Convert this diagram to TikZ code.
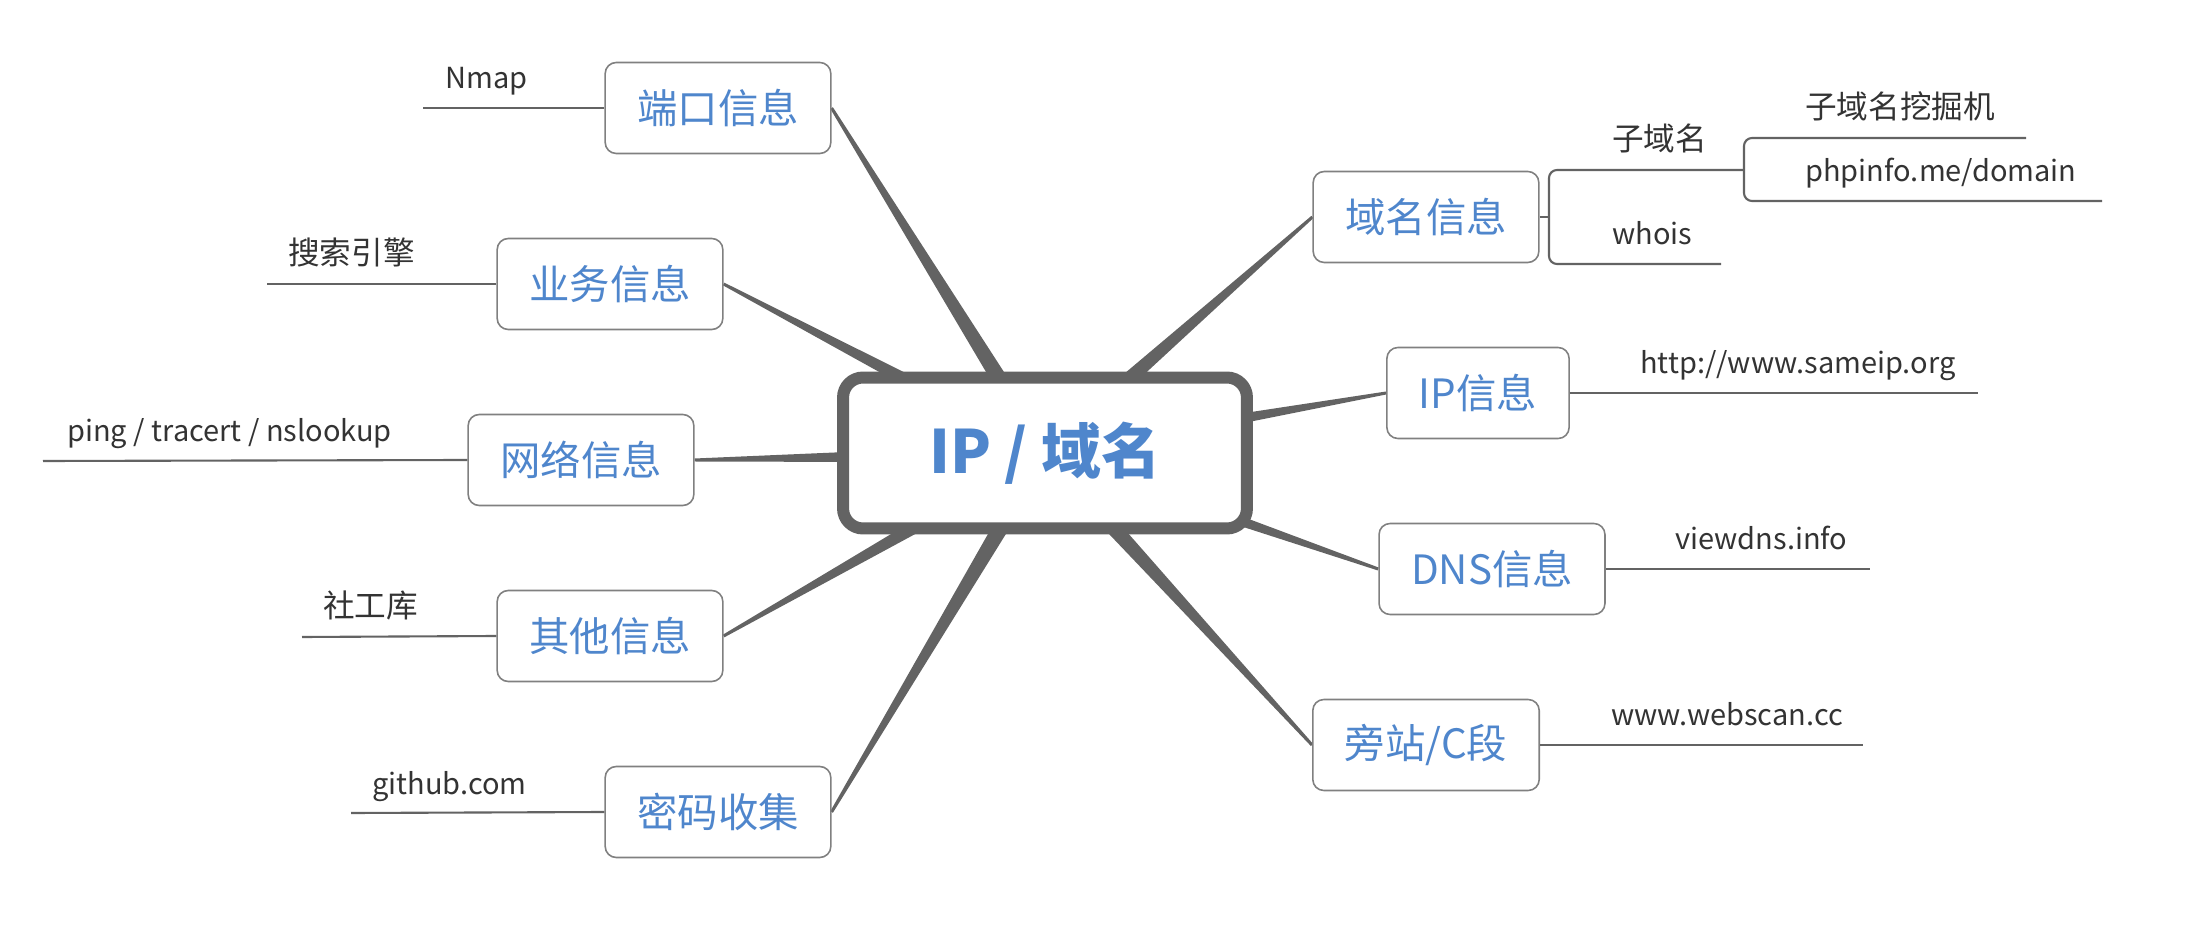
\documentclass[tikz,border=0pt]{standalone}
\usepackage{fontspec}
\setmainfont{Noto Sans CJK SC}
\usepackage{tikz}
\usetikzlibrary{calc,backgrounds}

\definecolor{topicblue}{HTML}{4F86CC}
\definecolor{linegray}{HTML}{636363}
\definecolor{leafgray}{HTML}{333333}

% tapered branch: thin at the topic, thick at the hub
\newcommand{\taper}[2]{%
\fill[linegray] ($(#1)!0.03cm!90:(#2)$) -- ($(#2)!0.19cm!-90:(#1)$)
  -- ($(#2)!0.19cm!90:(#1)$) -- ($(#1)!0.03cm!-90:(#2)$) -- cycle;}

\begin{document}
\begin{tikzpicture}[x=0.02cm, y=-0.02cm,
  hub/.style={draw=linegray, line width=0.24cm, rounded corners=0.4cm, fill=white,
    minimum width=8.08cm, minimum height=3.02cm, text=topicblue,
    font=\fontsize{34}{40}\selectfont\bfseries},
  topic/.style={draw=gray, line width=0.9pt, rounded corners=0.22cm, fill=white,
    minimum height=1.82cm, inner xsep=0.64cm, text=topicblue,
    font=\fontsize{23}{28}\selectfont},
  leaf/.style={anchor=base west, inner sep=0pt, text=leafgray,
    font=\fontsize{18}{22}\selectfont},
  latinleaf/.style={leaf, font=\fontsize{16.5}{20}\selectfont},
  twig/.style={draw=linegray, line width=1.2pt}]
\useasboundingbox (0,0) rectangle (2202,952);

% centre and topics
\node[hub] (hub) at (1045,453) {IP / 域名};
\node[topic] (port) at (718,108) {端口信息};
\node[topic] (biz) at (610,284) {业务信息};
\node[topic] (net) at (581,460) {网络信息};
\node[topic] (misc) at (610,636) {其他信息};
\node[topic] (pass) at (718,812) {密码收集};
\node[topic] (dom) at (1426,217) {域名信息};
\node[topic] (ip) at (1478,393) {IP信息};
\node[topic] (dns) at (1492,569) {DNS信息};
\node[topic] (side) at (1426,745) {旁站/C段};

\begin{scope}[on background layer]
\foreach \b/\a in {port/east,biz/east,net/east,misc/east,pass/east,
                   dom/west,ip/west,dns/west,side/west}
  {\taper{\b.\a}{hub}}
\end{scope}

% left leaves
\node[latinleaf] (nmap) at (445,89) {Nmap};
\coordinate (nmapend) at (423,108);
\draw[twig] (port.west) -- (nmapend);
\node[leaf] (search) at (288,265) {搜索引擎};
\coordinate (searchend) at (267,284);
\draw[twig] (biz.west) -- (searchend);
\node[latinleaf] (ping) at (67,442) {ping / tracert / nslookup};
\coordinate (pingend) at (43,461);
\draw[twig] (net.west) -- (pingend);
\node[leaf] (social) at (323,618) {社工库};
\coordinate (socialend) at (302,637);
\draw[twig] (misc.west) -- (socialend);
\node[latinleaf] (github) at (372,794) {github.com};
\coordinate (githubend) at (351,813);
\draw[twig] (pass.west) -- (githubend);

% right leaves
\coordinate (fork) at (1549,217);
\coordinate (subend) at (1744,170);
\coordinate (whoisend) at (1721,264);
\coordinate (diggerend) at (2026,138);
\coordinate (phpend) at (2102,201);
\node[leaf] (sub) at (1612,151) {子域名};
\node[latinleaf] (whois) at (1612,245) {whois};
\node[leaf] (digger) at (1805,119) {子域名挖掘机};
\node[latinleaf] (php) at (1805,182) {phpinfo.me/domain};
\draw[twig] (dom.east) -- (fork);
\draw[twig, rounded corners=0.16cm] (subend) -| (fork) |- (whoisend);
\draw[twig, rounded corners=0.16cm] (diggerend) -| (subend) |- (phpend);

\node[latinleaf] (sameip) at (1640,374) {http://www.sameip.org};
\coordinate (sameipend) at (1978,393);
\draw[twig] (ip.east) -- (sameipend);
\node[latinleaf] (viewdns) at (1675,550) {viewdns.info};
\coordinate (viewdnsend) at (1870,569);
\draw[twig] (dns.east) -- (viewdnsend);
\node[latinleaf] (webscan) at (1611,725) {www.webscan.cc};
\coordinate (webscanend) at (1863,745);
\draw[twig] (side.east) -- (webscanend);
\end{tikzpicture}
\end{document}
